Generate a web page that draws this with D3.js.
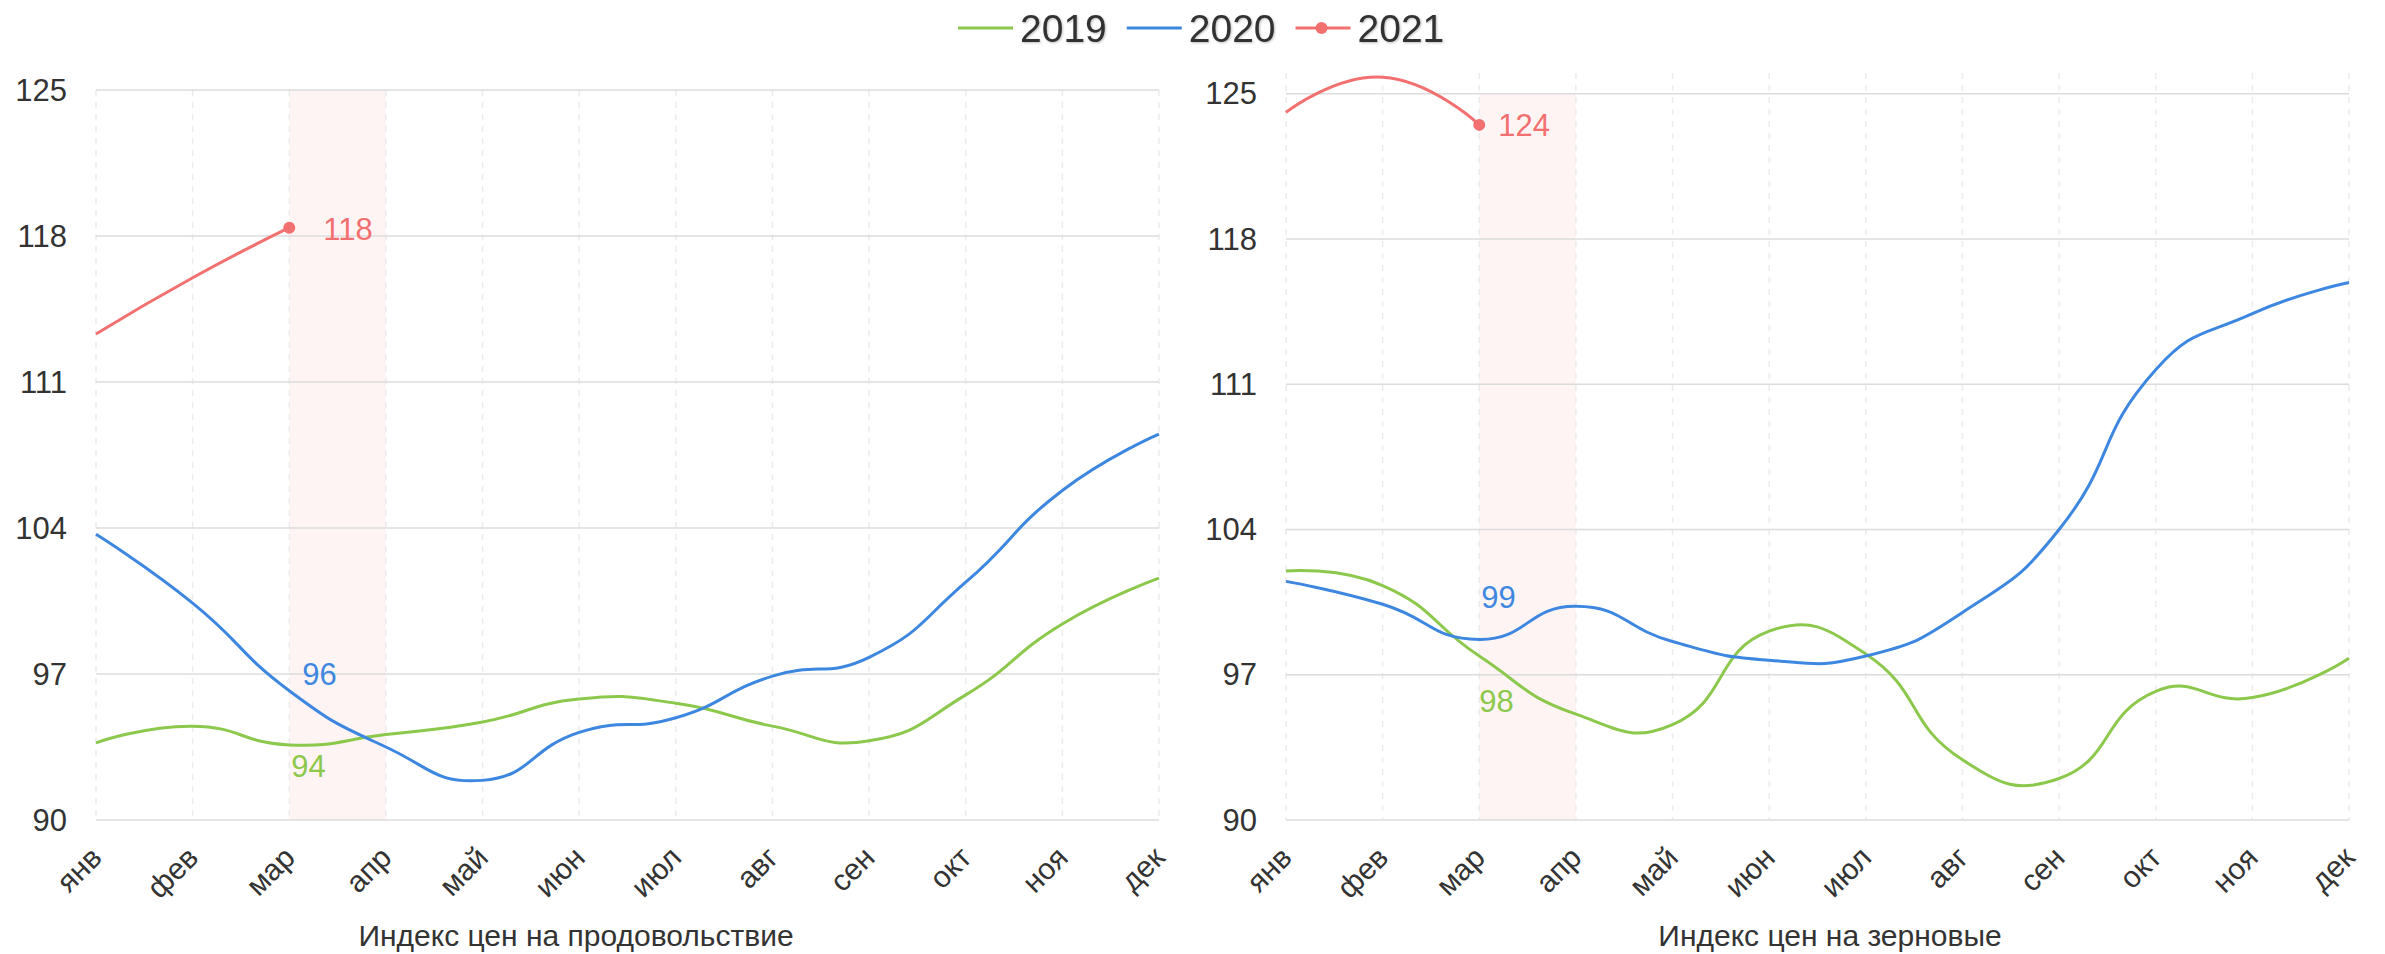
<!DOCTYPE html>
<html>
<head>
<meta charset="utf-8">
<script src="https://cdn.jsdelivr.net/npm/d3@7"></script>
<style>
  body { margin: 0; background: #fff; }
  svg { display: block; font-family: "Liberation Sans", Arial, Helvetica, sans-serif; }
</style>
</head>
<body>
<svg width="2385" height="954"></svg>
<script>
// data
const months = ["янв", "фев", "мар", "апр", "май", "июн", "июл", "авг", "сен", "окт", "ноя", "дек"];
const years = ["2019", "2020", "2021"];
const yTicks = [90, 97, 104, 111, 118, 125];

const food2019 = [93.7, 94.5, 93.6, 94.1, 94.7, 95.8, 95.6, 94.5, 93.8, 96.0, 99.4, 101.6];
const food2020 = [103.7, 100.4, 96.2, 93.5, 91.9, 94.2, 94.9, 96.9, 97.8, 101.4, 105.8, 108.5];
const food2021 = [113.3, 116.0, 118.4];

const grain2019 = [102.0, 101.3, 97.9, 95.1, 94.6, 99.1, 98.0, 92.9, 92.0, 96.2, 95.9, 97.8];
const grain2020 = [101.5, 100.4, 98.7, 100.3, 98.6, 97.7, 97.9, 100.0, 104.0, 111.7, 114.4, 115.9];
const grain2021 = [124.1, 125.8, 123.5];

const colors = {"2019": "#8cc84b", "2020": "#3d87e0", "2021": "#f37070"};

const svg = d3.select("svg");

// drop shadow for legend text
svg.append("defs").append("filter")
    .attr("id", "shadow")
    .append("feDropShadow")
        .attr("dx", 1).attr("dy", 1)
        .attr("stdDeviation", 1)
        .attr("flood-color", "#000")
        .attr("flood-opacity", 0.25);

// smooth curve: control points along (next - prev), split by segment lengths
function curveSmooth(context) {
    let pts;
    const smooth = 0.5;
    return {
        areaStart() {}, areaEnd() {},
        lineStart() { pts = []; },
        point(x, y) { pts.push([+x, +y]); },
        lineEnd() {
            const n = pts.length;
            const cin = [], cout = [];
            pts.forEach((p, i) => {
                if (i === 0 || i === n - 1) { cin[i] = p; cout[i] = p; return; }
                const a = pts[i - 1], b = pts[i + 1];
                const vx = b[0] - a[0], vy = b[1] - a[1];
                const d0 = Math.hypot(p[0] - a[0], p[1] - a[1]);
                const d1 = Math.hypot(b[0] - p[0], b[1] - p[1]);
                const r = d1 / (d0 + d1);
                cin[i] = [p[0] - vx * smooth * (1 - r), p[1] - vy * smooth * (1 - r)];
                cout[i] = [p[0] + vx * smooth * r, p[1] + vy * smooth * r];
            });
            context.moveTo(pts[0][0], pts[0][1]);
            for (let i = 0; i < n - 1; i++) {
                context.bezierCurveTo(cout[i][0], cout[i][1], cin[i + 1][0], cin[i + 1][1], pts[i + 1][0], pts[i + 1][1]);
            }
        }
    };
}

function drawChart(opts) {
    const g = svg.append("g");

    const x = d3.scalePoint()
        .domain(months)
        .range([opts.left, opts.right]);

    const y = d3.scaleLinear()
        .domain([90, opts.yMax])
        .range([opts.bottom, opts.top]);

    // highlighted month band (мар - апр)
    g.append("rect")
        .attr("x", x("мар"))
        .attr("y", y(125))
        .attr("width", x("апр") - x("мар"))
        .attr("height", y(90) - y(125))
        .attr("fill", "#fff4f4");

    // vertical dashed grid
    g.selectAll(".vgrid")
        .data(months)
        .enter().append("line")
            .attr("x1", d => x(d)).attr("x2", d => x(d))
            .attr("y1", y.range()[1]).attr("y2", y.range()[0])
            .attr("stroke", "#ececec")
            .attr("stroke-width", 1.5)
            .attr("stroke-dasharray", "6,6");

    // horizontal grid
    g.selectAll(".hgrid")
        .data(yTicks)
        .enter().append("line")
            .attr("x1", opts.left).attr("x2", opts.right)
            .attr("y1", d => y(d)).attr("y2", d => y(d))
            .attr("stroke", "#dcdcdc")
            .attr("stroke-width", 1.5);

    // y labels
    g.selectAll(".ylab")
        .data(yTicks)
        .enter().append("text")
            .attr("x", opts.left - 29)
            .attr("y", d => y(d))
            .attr("text-anchor", "end")
            .attr("dominant-baseline", "central")
            .attr("font-size", "31px")
            .attr("fill", "#333")
            .text(d => d);

    // x labels, rotated
    g.selectAll(".xlab")
        .data(months)
        .enter().append("text")
            .attr("transform", d => `translate(${x(d)}, ${opts.bottom + 32}) rotate(-45)`)
            .attr("text-anchor", "end")
            .attr("dominant-baseline", "central")
            .attr("font-size", "30px")
            .attr("fill", "#333")
            .text(d => d);

    // axis name
    g.append("text")
        .attr("x", opts.titleX)
        .attr("y", 946)
        .attr("text-anchor", "middle")
        .attr("font-size", "30px")
        .attr("fill", "#333")
        .text(opts.title);

    const line = d3.line()
        .x((d, i) => x(months[i]))
        .y(d => y(d))
        .curve(curveSmooth);

    years.forEach((yr, k) => {
        g.append("path")
            .datum(opts.series[k])
            .attr("d", line)
            .attr("fill", "none")
            .attr("stroke", colors[yr])
            .attr("stroke-width", 3);
    });

    // end dot of 2021
    const last = opts.series[2];
    g.append("circle")
        .attr("cx", x(months[last.length - 1]))
        .attr("cy", y(last[last.length - 1]))
        .attr("r", 6)
        .attr("fill", colors["2021"]);

    // value labels at мар
    opts.labels.forEach(l => {
        const v = opts.series[l.s][2];
        g.append("text")
            .attr("x", x("мар") + l.dx)
            .attr("y", y(v) + l.dy)
            .attr("dominant-baseline", "central")
            .attr("font-size", "31px")
            .attr("fill", colors[years[l.s]])
            .text(Math.round(v));
    });
}

drawChart({
    left: 96, right: 1159, top: 90, bottom: 820, yMax: 125,
    series: [food2019, food2020, food2021],
    title: "Индекс цен на продовольствие", titleX: 576,
    labels: [{s: 0, dx: 2, dy: 22}, {s: 1, dx: 13, dy: -16}, {s: 2, dx: 34, dy: 2}]
});

drawChart({
    left: 1286, right: 2349, top: 73, bottom: 820, yMax: 126,
    series: [grain2019, grain2020, grain2021],
    title: "Индекс цен на зерновые", titleX: 1830,
    labels: [{s: 0, dx: 0, dy: 45}, {s: 1, dx: 2, dy: -42}, {s: 2, dx: 19, dy: 1}]
});

// legend
const legend = svg.append("g");
let lx = 958;
years.forEach(yr => {
    legend.append("line")
        .attr("x1", lx).attr("x2", lx + 55)
        .attr("y1", 28).attr("y2", 28)
        .attr("stroke", colors[yr])
        .attr("stroke-width", 3);
    if (yr === "2021") {
        legend.append("circle")
            .attr("cx", lx + 26).attr("cy", 28)
            .attr("r", 6)
            .attr("fill", colors[yr]);
    }
    const t = legend.append("text")
        .attr("x", lx + 62)
        .attr("y", 42)
        .attr("font-size", "39px")
        .attr("fill", "#333")
        .attr("filter", "url(#shadow)")
        .text(yr);
    lx += 62 + t.node().getComputedTextLength() + 20;
});
</script>
</body>
</html>
